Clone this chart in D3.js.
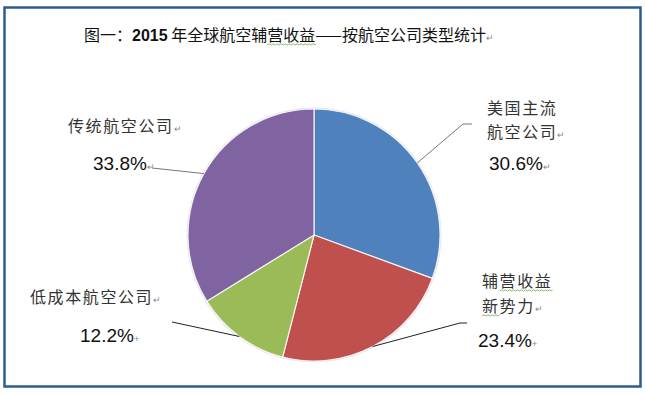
<!DOCTYPE html>
<html>
<head>
<meta charset="utf-8">
<script src="https://cdn.jsdelivr.net/npm/d3@7"></script>
<style>
  body { margin: 0; background: #fff; }
  svg { display: block; }
</style>
</head>
<body>
<div id="chart"></div>
<script>
// Chart data
const categories = ['美国主流航空公司', '辅营收益新势力', '低成本航空公司', '传统航空公司'];
const labelLines = [['美国主流', '航空公司'], ['辅营收益', '新势力'], ['低成本航空公司'], ['传统航空公司']];
const shares = [30.6, 23.4, 12.2, 33.8];
const colors = ['#4f81bd', '#c0504d', '#9bbb59', '#8064a2'];
const titleParts = ['图一：', '2015', ' 年全球航空辅营收益——按航空公司类型统计'];

const width = 646, height = 394;
const cx = 314, cy = 235, radius = 126;
const cjk = '"Noto Sans CJK SC", sans-serif';
const latin = '"Liberation Sans", Arial, sans-serif';

// label placement, one entry per slice
const labelLayout = [
    { x: 487, ys: [114, 138], px: 489, py: 170, elbow: [463, 124], end: [472, 124], line: '#777', mark: '↵' },
    { x: 482, ys: [287, 312], px: 478, py: 347, elbow: [460, 323], end: [467, 323], line: '#222', mark: '+' },
    { x: 30, ys: [303], px: 80, py: 342, elbow: null, end: [172, 322], line: '#222', mark: '+' },
    { x: 68, ys: [132], px: 93, py: 170, elbow: null, end: [152, 168], line: '#777', mark: '↵' }
];

const svg = d3.select('#chart')
    .append('svg')
    .attr('width', width)
    .attr('height', height);

// frame
svg.append('rect')
    .attr('x', 4.5).attr('y', 7.5)
    .attr('width', 636).attr('height', 379)
    .attr('fill', '#fff')
    .attr('stroke', '#2b5d8e')
    .attr('stroke-width', 2.5);

// title
const title = svg.append('text')
    .attr('x', 84)
    .attr('y', 41)
    .attr('fill', '#111')
    .style('font-size', '16px');
titleParts.forEach((t, i) => {
    title.append('tspan')
        .style('font-family', i === 1 ? latin : cjk)
        .style('font-weight', i === 1 ? 'bold' : 'normal')
        .text(t);
});
title.append('tspan')
    .style('font-family', cjk)
    .style('font-size', '9px')
    .attr('fill', '#888')
    .text('↵');

// wavy underline helper
function squiggle(x0, x1, y) {
    let d = `M${x0},${y}`;
    for (let x = x0, up = true; x < x1; x += 2, up = !up) {
        d += `L${Math.min(x + 2, x1)},${y + (up ? -1.2 : 0)}`;
    }
    svg.append('path')
        .attr('d', d)
        .attr('fill', 'none')
        .attr('stroke', '#6aa84f')
        .attr('stroke-width', 0.8);
}
{
    const node = title.node();
    const full = titleParts.join('');
    const i0 = full.indexOf('营');
    const a = node.getExtentOfChar(i0), b = node.getExtentOfChar(i0 + 2);
    squiggle(a.x, b.x + b.width, 45);
}

// pie
const pie = d3.pie().sort(null).value(d => d);
const arc = d3.arc().innerRadius(0).outerRadius(radius);
const arcs = pie(shares);

const g = svg.append('g').attr('transform', `translate(${cx},${cy})`);

g.append('circle')
    .attr('r', radius + 1.5)
    .attr('fill', '#e6e6ea');

g.selectAll('path.slice')
    .data(arcs)
    .join('path')
    .attr('class', 'slice')
    .attr('d', arc)
    .attr('fill', (d, i) => colors[i])
    .attr('stroke', 'rgba(255,255,255,0.85)')
    .attr('stroke-width', 1.2);

// leader lines
arcs.forEach((d, i) => {
    const L = labelLayout[i];
    const mid = (d.startAngle + d.endAngle) / 2;
    const p = d3.pointRadial(mid, radius);
    const pts = [[cx + p[0], cy + p[1]]];
    if (L.elbow) pts.push(L.elbow);
    pts.push(L.end);
    svg.append('path')
        .attr('d', d3.line()(pts))
        .attr('fill', 'none')
        .attr('stroke', L.line)
        .attr('stroke-width', 1);
});

// labels
labelLines.forEach((lines, i) => {
    const L = labelLayout[i];
    lines.forEach((t, j) => {
        const txt = svg.append('text')
            .attr('x', L.x)
            .attr('y', L.ys[j])
            .attr('fill', '#333')
            .style('font-family', cjk)
            .style('font-size', '16px')
            .style('letter-spacing', '1.6px')
            .text(t);
        if (j === lines.length - 1) {
            txt.append('tspan')
                .style('font-size', '9px')
                .style('letter-spacing', '0')
                .attr('fill', '#888')
                .text('↵');
        }
        if (i === 1) {
            const n = txt.node();
            if (j === 0) {
                const a = n.getExtentOfChar(1), b = n.getExtentOfChar(3);
                squiggle(a.x, b.x + b.width, L.ys[j] + 4);
            } else {
                const a = n.getExtentOfChar(0);
                squiggle(a.x, a.x + a.width, L.ys[j] + 4);
            }
        }
    });
    const pct = svg.append('text')
        .attr('x', L.px)
        .attr('y', L.py)
        .attr('fill', '#111')
        .style('font-family', latin)
        .style('font-size', '19px')
        .text(d3.format('.1f')(shares[i]) + '%');
    pct.append('tspan')
        .style('font-size', '9px')
        .attr('fill', '#888')
        .text(L.mark);
});
</script>
</body>
</html>
